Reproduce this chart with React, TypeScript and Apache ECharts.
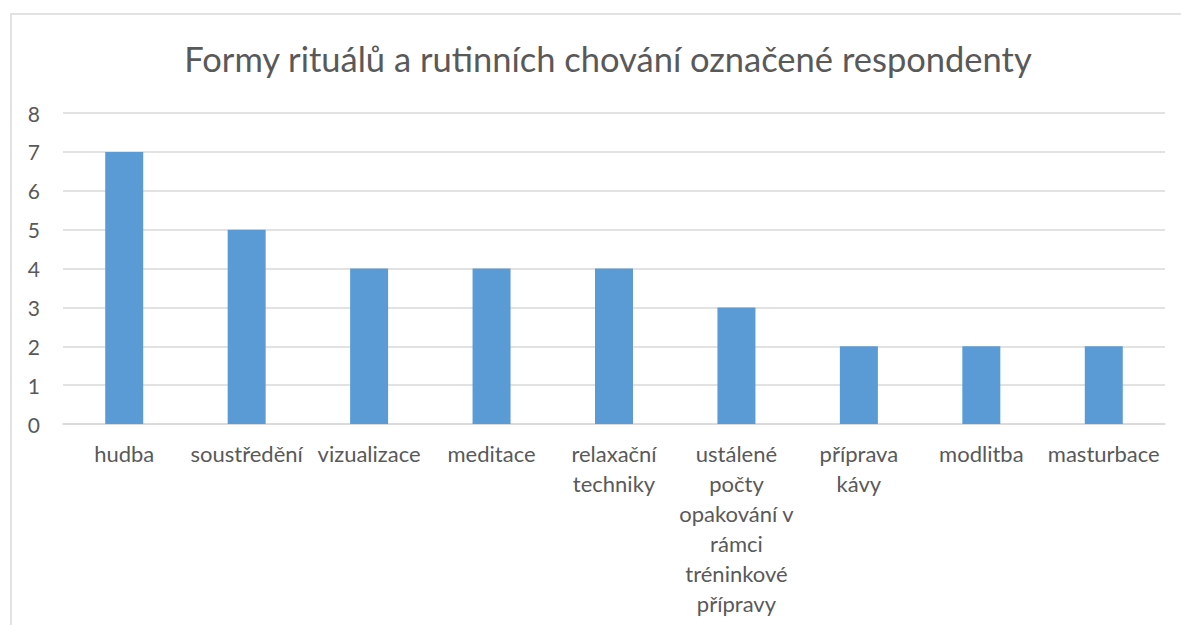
import React, { useEffect, useRef } from "react";
import * as echarts from "echarts";

const categories = [
  "hudba",
  "soustředění",
  "vizualizace",
  "meditace",
  "relaxační techniky",
  "ustálené počty opakování v rámci tréninkové přípravy",
  "příprava kávy",
  "modlitba",
  "masturbace",
];
const tickLabels = [
  "hudba",
  "soustředění",
  "vizualizace",
  "meditace",
  "relaxační\ntechniky",
  "ustálené\npočty\nopakování v\nrámci\ntréninkové\npřípravy",
  "příprava\nkávy",
  "modlitba",
  "masturbace",
];
const values = [7, 5, 4, 4, 4, 3, 2, 2, 2];
const title = "Formy rituálů a rutinních chování označené respondenty";

export default function App() {
  const ref = useRef<HTMLDivElement>(null);
  useEffect(() => {
    if (!ref.current) return;
    const chart = echarts.init(ref.current, null, { renderer: "svg" });
    const font = "Lato, 'Open Sans', sans-serif";
    chart.setOption({
      animation: false,
      backgroundColor: "#ffffff",
      title: {
        text: title,
        left: 603,
        top: 36,
        textAlign: "center",
        textStyle: { color: "#595959", fontSize: 34.5, fontWeight: "normal", fontFamily: font },
      },
      graphic: [
        {
          type: "rect",
          shape: { x: 11, y: 14, width: 1190, height: 700 },
          style: { fill: "none", stroke: "#d9d9d9", lineWidth: 1.5 },
          silent: true,
        },
      ],
      grid: { left: 63, right: 16, top: 113, bottom: 201, containLabel: false },
      xAxis: {
        type: "category",
        data: categories,
        axisLine: { show: true, lineStyle: { color: "#d9d9d9", width: 1.5 } },
        axisTick: { show: false },
        axisLabel: {
          interval: 0,
          color: "#595959",
          fontSize: 22,
          fontFamily: font,
          lineHeight: 30,
          margin: 14,
          verticalAlign: "top",
          formatter: (_v: string, i: number) => tickLabels[i],
        },
      },
      yAxis: {
        type: "value",
        min: 0,
        max: 8,
        interval: 1,
        axisLine: { show: false },
        axisTick: { show: false },
        splitLine: { lineStyle: { color: "#d9d9d9", width: 1.5 } },
        axisLabel: { color: "#595959", fontSize: 21, fontFamily: font, margin: 23 },
      },
      series: [
        {
          type: "bar",
          data: values,
          barWidth: 38,
          itemStyle: { color: "#5b9bd5" },
        },
      ],
    });
    return () => chart.dispose();
  }, []);
  return (
    <div
      ref={ref}
      style={{ position: "fixed", left: 0, top: 0, width: 1181, height: 625 }}
    />
  );
}
